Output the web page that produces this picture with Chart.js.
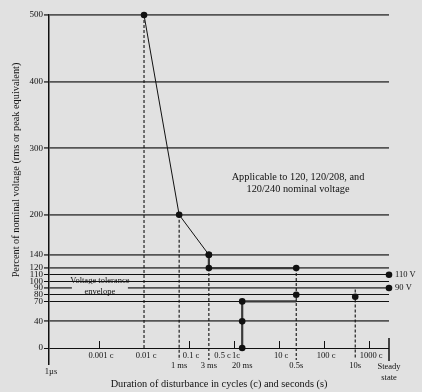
<!DOCTYPE html>
<html>
<head>
<meta charset="utf-8">
<script src="https://cdn.jsdelivr.net/npm/chart.js@4/dist/chart.umd.min.js"></script>
<style>
  html, body { margin: 0; padding: 0; background: #e1e1e1; }
  #wrap { width: 422px; height: 392px; }
</style>
</head>
<body>
<div id="wrap"><canvas id="myChart"></canvas></div>
<script>
// y: percent of nominal voltage, x: log10 of duration in cycles (60 Hz), as drawn
const yTicks = [0, 40, 70, 80, 90, 100, 110, 120, 140, 200, 300, 400, 500];

const cycleTickX = [-3, -1, 0, 1, 2, 3];
const cycleLabelX = [-3, -2, -1, -0.3, 0, 1, 2, 3];
const cycleLabels = ['0.001 c', '0.01 c', '0.1 c', '0.5 c', '1c', '10 c', '100 c', '1000 c'];

const timeX = [-4.11, -1.22, -0.56, 0.18, 1.38, 2.69, 3.44];
const timeLabels = ['1\u00b5s', '1 ms', '3 ms', '20 ms', '0.5s', '10s', ['Steady', 'state']];

// overvoltage curve
const overX = [-2, -1.22, -0.56];
const overY = [500, 200, 140];
const holdX = [-0.56, -0.56, 1.38];
const holdY = [140, 120, 120];
// undervoltage curve
const underX = [0.18, 0.18, 0.18, 1.38];
const underY = [0, 40, 70, 70];
// loose markers
const markX = [1.38, 2.69, 3.44, 3.44];
const markY = [80, 77, 110, 90];
// dashed drop lines
const dropX = [-2, -1.22, -0.56, 1.38, 2.69];
const dropTop = [500, 200, 120, 120, 88];
const dropBottom = [0, -18, -18, -18, -16];

const steadyLabels = ['110 V', '90 V'];
const steadyY = [110, 90];

const serif = '"Liberation Serif", "DejaVu Serif", serif';
const thinRules = [0, 70, 80, 100, 110];

function pts(xs, ys) { return xs.map((v, i) => ({x: v, y: ys[i]})) }

var datasets = [
  {data: pts(overX, overY), showLine: true, borderColor: '#111', borderWidth: 1,
   pointRadius: 3.3, pointBackgroundColor: '#111', pointBorderWidth: 0, clip: false},
  {data: pts(holdX, holdY), showLine: true, borderColor: '#3a3a3a', borderWidth: 2.2,
   pointRadius: 3.3, pointBackgroundColor: '#111', pointBorderWidth: 0, clip: false},
  {data: pts(underX, underY), showLine: true, borderColor: '#3a3a3a', borderWidth: 2.2,
   pointRadius: [3.3, 3.3, 3.3, 0], pointBackgroundColor: '#111', pointBorderWidth: 0, clip: false},
  {data: pts(markX, markY), showLine: false,
   pointRadius: 3.3, pointBackgroundColor: '#111', pointBorderWidth: 0, clip: false}
];
dropX.forEach((v, i) => {
  datasets.unshift({
    data: [{x: v, y: dropTop[i]}, {x: v, y: dropBottom[i]}],
    showLine: true, borderColor: '#111', borderWidth: 1.1, borderDash: [3, 2],
    pointRadius: 0, clip: false
  })
})

const deco = {
  id: 'deco',
  beforeDraw(chart) {
    const c = chart.ctx;
    c.save();
    c.fillStyle = '#e1e1e1';
    c.fillRect(0, 0, chart.width, chart.height);
    c.restore();
  },
  afterDraw(chart) {
    const c = chart.ctx, x = chart.scales.x, y = chart.scales.y;
    const y0 = y.getPixelForValue(0);
    c.save();
    c.strokeStyle = '#111';
    c.fillStyle = '#111';
    c.lineWidth = 1;
    cycleTickX.forEach(v => {
      const px = Math.round(x.getPixelForValue(v)) + 0.5;
      c.beginPath(); c.moveTo(px, y0 - 7); c.lineTo(px, y0); c.stroke();
    })
    // steady state marker
    const ps = x.getPixelForValue(timeX[timeX.length - 1]);
    c.lineWidth = 1.5;
    c.beginPath(); c.moveTo(ps, y0 - 10); c.lineTo(ps, y0 + 13); c.stroke();

    c.font = '8.5px ' + serif;
    c.textAlign = 'center';
    c.textBaseline = 'middle';
    cycleLabelX.forEach((v, i) => {
      c.fillText(cycleLabels[i], x.getPixelForValue(v) + 2, y0 + 8);
    })
    timeX.forEach((v, i) => {
      const px = x.getPixelForValue(v);
      const lab = timeLabels[i];
      if (Array.isArray(lab)) {
        c.fillText(lab[0], px, y0 + 19);
        c.fillText(lab[1], px, y0 + 30);
      } else if (i === 0) {
        c.fillText(lab, px + 2, y0 + 24);
      } else {
        c.fillText(lab, px, y0 + 18);
      }
    })

    c.font = '10.3px ' + serif;
    c.fillText('Duration of disturbance in cycles (c) and seconds (s)', (x.left + x.right) / 2, y0 + 36);

    c.save();
    c.translate(16, 170);
    c.rotate(-Math.PI / 2);
    c.fillText('Percent of nominal voltage (rms or peak equivalent)', 0, 0);
    c.restore();

    c.fillText('Applicable to 120, 120/208, and', x.getPixelForValue(1.42), y.getPixelForValue(257));
    c.fillText('120/240 nominal voltage', x.getPixelForValue(1.42), y.getPixelForValue(239));

    c.font = '8.5px ' + serif;
    c.textAlign = 'left';
    steadyLabels.forEach((t, i) => {
      c.fillText(t, x.right + 6, y.getPixelForValue(steadyY[i]));
    })

    c.textAlign = 'center';
    const ex = x.getPixelForValue(-2.98);
    c.fillText('Voltage tolerance', ex, y.getPixelForValue(99) - 1);
    c.fillStyle = '#e1e1e1';
    c.fillRect(ex - 28, y.getPixelForValue(90) - 4, 56, 9);
    c.fillStyle = '#111';
    c.fillText('envelope', ex, y.getPixelForValue(84));
    c.restore();
  }
}

var chart = new Chart(document.getElementById('myChart').getContext('2d'), {
  type: 'scatter',
  data: {datasets: datasets},
  plugins: [deco],
  options: {
    responsive: true,
    maintainAspectRatio: false,
    animation: false,
    layout: {padding: {top: 15, right: 33, bottom: 28, left: 0}},
    plugins: {legend: {display: false}, tooltip: {enabled: false}},
    scales: {
      x: {type: 'linear', min: -4.11, max: 3.44, display: false},
      y: {
        type: 'linear', min: -24, max: 500,
        afterBuildTicks: s => { s.ticks = yTicks.map(v => ({value: v})) },
        afterFit: s => { s.width = 49 },
        border: {color: '#111', width: 1.5},
        grid: {
          tickLength: 5,
          color: ctx => thinRules.includes(ctx.tick.value) ? '#111' : '#555',
          lineWidth: ctx => thinRules.includes(ctx.tick.value) ? 1 : 1.8
        },
        ticks: {
          padding: 1,
          color: '#111',
          font: {family: serif, size: 9},
          callback: v => v
        }
      }
    }
  }
});
</script>
</body>
</html>
